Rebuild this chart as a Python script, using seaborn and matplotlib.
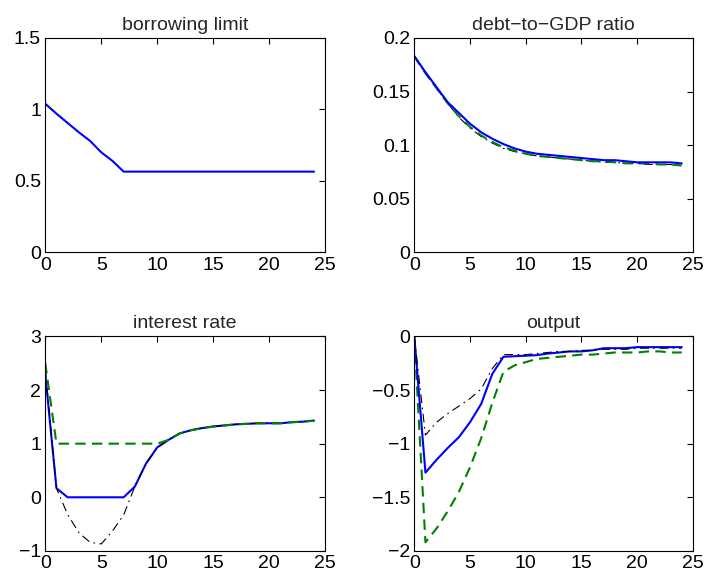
import numpy as np
import matplotlib
matplotlib.use("Agg")
import matplotlib.pyplot as plt
import matplotlib.ticker as mticker
import seaborn as sns

# horizon (quarters)
t = np.arange(25)

borrow_blue = [1.04, 0.97, 0.905, 0.84, 0.78, 0.70, 0.64, 0.565, 0.565, 0.565,
               0.565, 0.565, 0.565, 0.565, 0.565, 0.565, 0.565, 0.565, 0.565, 0.565,
               0.565, 0.565, 0.565, 0.565, 0.565]

debt_blue = [0.183, 0.168, 0.154, 0.140, 0.130, 0.120, 0.112, 0.106, 0.101, 0.097,
             0.094, 0.092, 0.091, 0.090, 0.089, 0.088, 0.087, 0.086, 0.086, 0.085,
             0.084, 0.084, 0.084, 0.084, 0.083]
debt_green = [0.183, 0.167, 0.153, 0.139, 0.127, 0.117, 0.109, 0.103, 0.098, 0.095,
              0.092, 0.090, 0.089, 0.088, 0.087, 0.086, 0.085, 0.085, 0.084, 0.083,
              0.083, 0.083, 0.082, 0.082, 0.081]
debt_black = [0.183, 0.167, 0.153, 0.139, 0.126, 0.116, 0.108, 0.102, 0.097, 0.094,
              0.092, 0.090, 0.089, 0.088, 0.087, 0.086, 0.085, 0.084, 0.084, 0.083,
              0.083, 0.082, 0.082, 0.082, 0.081]

rate_blue = [2.3, 0.17, 0.0, 0.0, 0.0, 0.0, 0.0, 0.0, 0.2, 0.63,
             0.93, 1.07, 1.19, 1.25, 1.29, 1.32, 1.34, 1.36, 1.37, 1.38,
             1.38, 1.38, 1.40, 1.41, 1.43]
rate_green = [2.5, 1.0, 1.0, 1.0, 1.0, 1.0, 1.0, 1.0, 1.0, 1.0,
              1.0, 1.07, 1.19, 1.25, 1.29, 1.32, 1.34, 1.36, 1.37, 1.38,
              1.38, 1.38, 1.40, 1.41, 1.43]
rate_black = [2.4, 0.17, -0.32, -0.66, -0.84, -0.87, -0.63, -0.33, 0.2, 0.63,
              0.93, 1.07, 1.19, 1.25, 1.29, 1.32, 1.34, 1.36, 1.37, 1.38,
              1.38, 1.38, 1.40, 1.41, 1.43]

out_blue = [0.0, -1.27, -1.15, -1.04, -0.94, -0.80, -0.63, -0.35, -0.19, -0.185,
            -0.18, -0.175, -0.16, -0.15, -0.14, -0.14, -0.13, -0.11, -0.11, -0.11,
            -0.10, -0.10, -0.10, -0.10, -0.10]
out_green = [0.0, -1.92, -1.79, -1.63, -1.45, -1.22, -0.95, -0.62, -0.33, -0.27,
             -0.24, -0.21, -0.20, -0.19, -0.18, -0.17, -0.17, -0.16, -0.15, -0.15,
             -0.15, -0.14, -0.14, -0.15, -0.15]
out_black = [0.0, -0.92, -0.80, -0.72, -0.65, -0.58, -0.49, -0.30, -0.17, -0.17,
             -0.17, -0.16, -0.15, -0.14, -0.14, -0.13, -0.13, -0.12, -0.12, -0.12,
             -0.11, -0.11, -0.11, -0.11, -0.11]

titles = ["borrowing limit", "debt\u2212to\u2212GDP ratio", "interest rate", "output"]
yticks = [[0, 0.5, 1, 1.5], [0, 0.05, 0.1, 0.15, 0.2],
          [-1, 0, 1, 2, 3], [-2, -1.5, -1, -0.5, 0]]
xticks = [0, 5, 10, 15, 20, 25]

sns.set_style("white")
plt.rcParams["font.family"] = ["Liberation Sans", "DejaVu Sans"]
plt.rcParams["font.size"] = 14

fig = plt.figure(figsize=(7.07, 5.83), dpi=100)
boxes = [[0.064, 0.567, 0.396, 0.368], [0.586, 0.567, 0.394, 0.368],
         [0.064, 0.055, 0.396, 0.368], [0.586, 0.055, 0.394, 0.368]]
axes = [fig.add_axes(b) for b in boxes]

BLUE, GREEN, BLACK = "#0000ff", "#008000", "#000000"
solid = dict(color=BLUE, lw=1.5)
dash = dict(color=GREEN, lw=1.5, linestyle=(0, (5, 3)))
dashdot = dict(color=BLACK, lw=0.8, linestyle=(0, (8, 4, 1.5, 4)))

sns.lineplot(x=t, y=borrow_blue, ax=axes[0], **solid)

sns.lineplot(x=t, y=debt_black, ax=axes[1], **dashdot)
sns.lineplot(x=t, y=debt_green, ax=axes[1], **dash)
sns.lineplot(x=t, y=debt_blue, ax=axes[1], **solid)

sns.lineplot(x=t, y=rate_blue, ax=axes[2], **solid)
sns.lineplot(x=t, y=rate_black, ax=axes[2], **dashdot)
sns.lineplot(x=t, y=rate_green, ax=axes[2], **dash)

sns.lineplot(x=t, y=out_green, ax=axes[3], **dash)
sns.lineplot(x=t, y=out_blue, ax=axes[3], **solid)
sns.lineplot(x=t, y=out_black, ax=axes[3], **dashdot)

fmt = mticker.FuncFormatter(lambda v, p: f"{v:g}".replace("-", "\u2212"))
for ax, title, yt in zip(axes, titles, yticks):
    ax.set_xlim(0, 25)
    ax.set_ylim(yt[0], yt[-1])
    ax.set_xticks(xticks)
    ax.set_yticks(yt)
    ax.yaxis.set_major_formatter(fmt)
    ax.xaxis.set_major_formatter(fmt)
    ax.set_title(title, fontsize=14, pad=6)
    ax.tick_params(direction="in", length=4, width=0.8, top=True, right=True,
                   labelsize=14, pad=3, colors="black")
    for s in ax.spines.values():
        s.set_visible(True)
        s.set_color("black")
        s.set_linewidth(0.8)
    ax.set_xlabel("")
    ax.set_ylabel("")

fig.savefig("out.png", dpi=100, facecolor="white")
